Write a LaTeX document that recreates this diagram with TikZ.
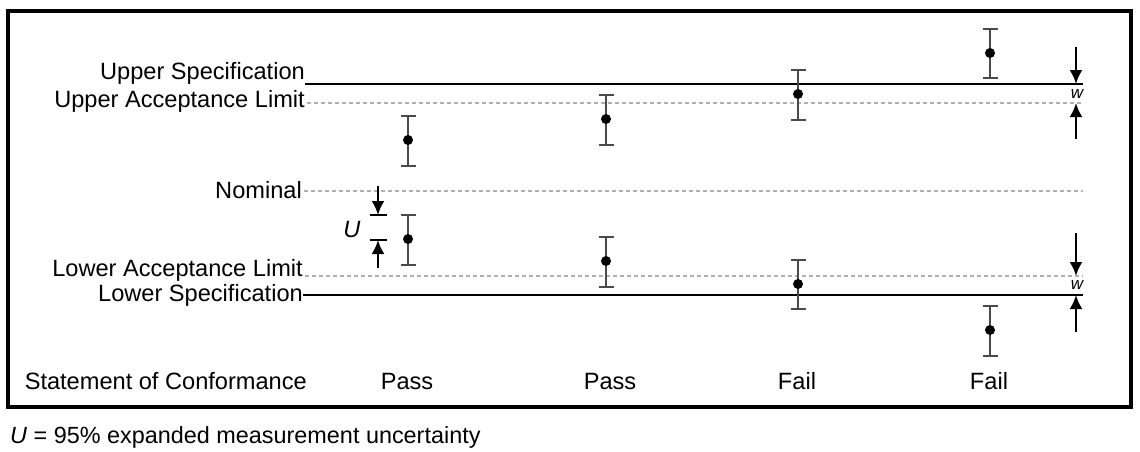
\documentclass[tikz,border=0pt]{standalone}
\usepackage{fontspec}
\setmainfont{Liberation Sans}
\usetikzlibrary{arrows.meta}
\definecolor{barcol}{HTML}{4A4A4A}
\definecolor{dotcol}{HTML}{B0B0B0}
\begin{document}
\begin{tikzpicture}[x=1pt,y=-1pt,
  lbl/.style={anchor=east,inner sep=0pt,font=\fontsize{23.6}{27}\selectfont},
  verdict/.style={inner sep=0pt,font=\fontsize{23.6}{27}\selectfont},
  specline/.style={line width=2.6pt,black},
  accline/.style={line width=2pt,dotcol,dash pattern=on 3.5pt off 3.5pt},
  ebar/.style={line width=2.2pt,barcol},
  edot/.style={circle,fill=black,inner sep=0pt,minimum size=10pt},
  marker/.style={line width=2.4pt,-{Latex[length=14pt,width=13pt]}},
  tick/.style={line width=2.4pt}]
\useasboundingbox (0,0) rectangle (1140,451);
\draw[line width=3.2pt] (8,11) rectangle (1131,407);

% labels
\node[lbl] (us) at (305,73) {Upper Specification};
\node[lbl] (ual) at (305,101) {Upper Acceptance Limit};
\node[lbl] (nom) at (302,190) {Nominal};
\node[lbl] (lal) at (303,270) {Lower Acceptance Limit};
\node[lbl] (ls) at (303,295) {Lower Specification};
\node[lbl] (soc) at (307,381) {Statement of Conformance};

% line end points
\coordinate (usA) at (305,84);  \coordinate (usB) at (1083,84);
\coordinate (ualA) at (307,103); \coordinate (ualB) at (1083,103);
\coordinate (nomA) at (304,191); \coordinate (nomB) at (1083,191);
\coordinate (lalA) at (305,276); \coordinate (lalB) at (1083,276);
\coordinate (lsA) at (303,295); \coordinate (lsB) at (1083,295);

\draw[accline] (ualA) -- (ualB);
\draw[accline] (nomA) -- (nomB);
\draw[accline] (lalA) -- (lalB);
\draw[specline] (usA) -- (usB);
\draw[specline] (lsA) -- (lsB);

% error bars: name/x/top/dot/bottom
\foreach \n/\x/\t/\d/\b in {a/408/116/140/166, b/408/215/239/265,
    c/606/95/119/145, d/606/237/261/287,
    e/798/70/94/120, f/798/260/284/309,
    g/990/29/53/78, h/990/306/330/356}{
  \coordinate (\n t) at (\x,\t);
  \coordinate (\n b) at (\x,\b);
  \draw[ebar] (\n t) -- (\n b);
  \draw[ebar] ([xshift=-7.5pt]\n t) -- ([xshift=7.5pt]\n t);
  \draw[ebar] ([xshift=-7.5pt]\n b) -- ([xshift=7.5pt]\n b);
  \node[edot] (\n) at (\x,\d) {};
}

% U marker
\coordinate (uTopStart) at (378,186);
\coordinate (uTop) at (378,215);
\coordinate (uBotStart) at (378,268);
\coordinate (uBot) at (378,240);
\draw[tick] (370,215) -- (387,215);
\draw[tick] (370,240) -- (387,240);
\draw[marker] (uTopStart) -- (uTop);
\draw[marker] (uBotStart) -- (uBot);
\node[font=\fontsize{23.6}{27}\selectfont\itshape,inner sep=0pt] (U) at (352,229) {U};

% w markers
\coordinate (w1s) at (1076,47); \coordinate (w1e) at (1076,84);
\coordinate (w2s) at (1076,139); \coordinate (w2e) at (1076,103);
\coordinate (w3s) at (1076,233); \coordinate (w3e) at (1076,276);
\coordinate (w4s) at (1076,332); \coordinate (w4e) at (1076,295);
\draw[marker] (w1s) -- (w1e);
\draw[marker] (w2s) -- (w2e);
\draw[marker] (w3s) -- (w3e);
\draw[marker] (w4s) -- (w4e);
\node[font=\fontsize{17}{19}\selectfont\itshape,inner sep=0pt] (w1) at (1077,94) {w};
\node[font=\fontsize{17}{19}\selectfont\itshape,inner sep=0pt] (w2) at (1077,285) {w};

% verdicts
\node[verdict] (p1) at (407,381) {Pass};
\node[verdict] (p2) at (610,381) {Pass};
\node[verdict] (f1) at (797,381) {Fail};
\node[verdict] (f2) at (989,381) {Fail};

% footnote
\node[anchor=west,inner sep=0pt,font=\fontsize{23.4}{27}\selectfont] (foot) at (10,437) {\textit{U} = 95\% expanded measurement uncertainty};
\end{tikzpicture}
\end{document}
